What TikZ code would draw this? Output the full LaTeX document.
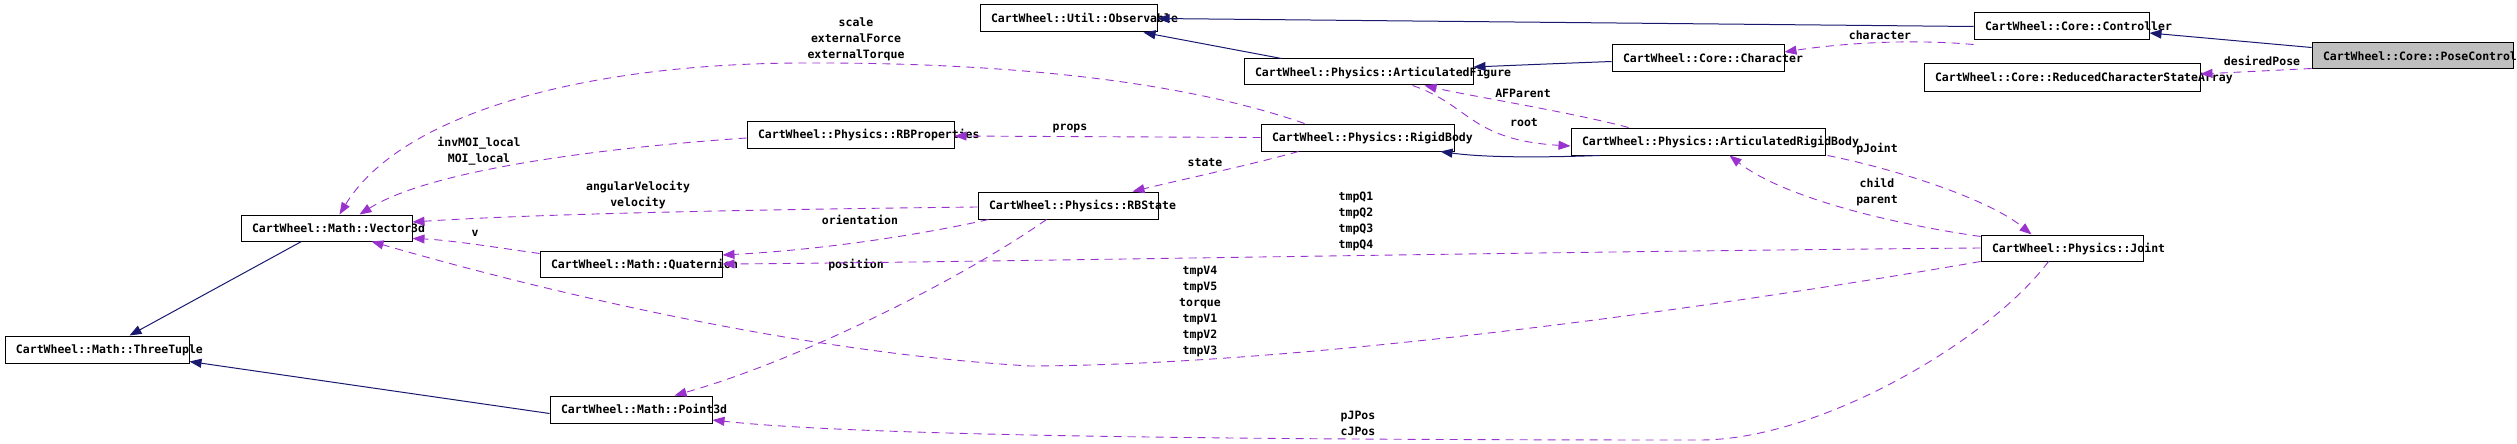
\documentclass[tikz,border=0pt]{standalone}
\usepackage{fontspec}
\newfontfamily\dxfont{DejaVu Sans Mono}
\usetikzlibrary{arrows.meta}
\definecolor{navyedge}{HTML}{191970}
\definecolor{orchidedge}{HTML}{9A32CD}
\definecolor{boxgray}{HTML}{BFBFBF}
\begin{document}
\begin{tikzpicture}[x=1pt,y=-1pt,
  txt/.style={font=\dxfont\bfseries\fontsize{11.5}{16}\selectfont},
  cls/.style={txt,draw=black,line width=1pt,inner xsep=11pt,inner ysep=0pt,
     align=left,text height=10.3pt,text depth=2pt},
  lbl/.style={txt,inner sep=0pt,align=center},
  inh/.style={draw=navyedge,line width=1pt,-{Triangle[length=12pt,width=9pt]}},
  usedby/.style={draw=orchidedge,line width=0.9pt,dash pattern=on 8pt off 6pt,
     -{Triangle[length=12pt,width=9pt]}}]
\useasboundingbox (0,0) rectangle (2517,444);
% classes
\node[cls,minimum width=177pt,text width=155pt,minimum height=27pt] (obs) at (1068.5,18.5) {\mbox{CartWheel::Util::Observable}};
\node[cls,minimum width=175pt,text width=153pt,minimum height=27pt] (ctrl) at (2061.5,26.5) {\mbox{CartWheel::Core::Controller}};
\node[cls,fill=boxgray,minimum width=201pt,text width=179pt,minimum height=26pt] (pose) at (2412.5,56) {\mbox{CartWheel::Core::PoseController}};
\node[cls,minimum width=276pt,text width=254pt,minimum height=27pt] (rcsa) at (2062,77.5) {\mbox{CartWheel::Core::ReducedCharacterStateArray}};
\node[cls,minimum width=172pt,text width=150pt,minimum height=27pt] (char) at (1698,58.5) {\mbox{CartWheel::Core::Character}};
\node[cls,minimum width=229pt,text width=207pt,minimum height=26pt] (af) at (1358.5,72) {\mbox{CartWheel::Physics::ArticulatedFigure}};
\node[cls,minimum width=207pt,text width=185pt,minimum height=27pt] (rbp) at (850.5,134.5) {\mbox{CartWheel::Physics::RBProperties}};
\node[cls,minimum width=193pt,text width=171pt,minimum height=27pt] (rb) at (1357.5,137.5) {\mbox{CartWheel::Physics::RigidBody}};
\node[cls,minimum width=254pt,text width=232pt,minimum height=27pt] (arb) at (1698,141.5) {\mbox{CartWheel::Physics::ArticulatedRigidBody}};
\node[cls,minimum width=180pt,text width=158pt,minimum height=27pt] (rbs) at (1068,205.5) {\mbox{CartWheel::Physics::RBState}};
\node[cls,minimum width=171pt,text width=149pt,minimum height=26pt] (v3) at (326.5,228) {\mbox{CartWheel::Math::Vector3d}};
\node[cls,minimum width=182pt,text width=160pt,minimum height=26pt] (q) at (631,264) {\mbox{CartWheel::Math::Quaternion}};
\node[cls,minimum width=184pt,text width=162pt,minimum height=27pt] (tt) at (97,349.5) {\mbox{CartWheel::Math::ThreeTuple}};
\node[cls,minimum width=162pt,text width=140pt,minimum height=27pt] (p3) at (631,409.5) {\mbox{CartWheel::Math::Point3d}};
\node[cls,minimum width=162pt,text width=140pt,minimum height=26pt] (joint) at (2062,248) {\mbox{CartWheel::Physics::Joint}};
% labels
\node[lbl] (l1) at (856,39) {scale\\externalForce\\externalTorque};
\node[lbl] (l2) at (479,151) {invMOI\_local\\MOI\_local};
\node[lbl] (l3) at (638,195) {angularVelocity\\velocity};
\node[lbl] (l4) at (475,233) {v};
\node[lbl] (l5) at (860,220) {orientation};
\node[lbl] (l6) at (856,265) {position};
\node[lbl] (l7) at (1070,128) {props};
\node[lbl] (l8) at (1205,163) {state};
\node[lbl] (l9) at (1523,93) {AFParent};
\node[lbl] (l10) at (1524,123) {root};
\node[lbl] (l11) at (1356,221) {tmpQ1\\tmpQ2\\tmpQ3\\tmpQ4};
\node[lbl] (l12) at (1200,311.5) {tmpV4\\tmpV5\\torque\\tmpV1\\tmpV2\\tmpV3};
\node[lbl] (l13) at (1358,423) {pJPos\\cJPos};
\node[lbl] (l14) at (1880,35) {character};
\node[lbl] (l15) at (2262,61) {desiredPose};
\node[lbl] (l16) at (1877,149) {pJoint};
\node[lbl] (l17) at (1877,192) {child\\parent};
% inheritance
\draw[inh] (ctrl.west) -- (obs.east);
\draw[inh] ([xshift=38pt]af.north west) -- ([xshift=164pt]obs.south west);
\draw[inh] ([yshift=-3pt]char.west) .. controls (1546,64) .. ([yshift=5pt]af.east);
\draw[inh] ([xshift=29pt]arb.south west) .. controls (1530,158) and (1480,157) .. ([xshift=-14pt]rb.south east);
\draw[inh] ([yshift=-5pt]pose.north west) -- ([yshift=-6.5pt]ctrl.east);
\draw[inh] ([xshift=61pt]v3.south west) -- ([xshift=125pt]tt.north west);
\draw[inh] ([yshift=-4pt]p3.west) -- ([yshift=2pt]tt.south east);
% usage
\draw[usedby] ([xshift=58pt]arb.north west) .. controls (1570,112) and (1470,96) .. ([xshift=181pt]af.south west);
\draw[usedby] ([xshift=169pt]af.south west) .. controls (1470,105) and (1470,140) .. ([yshift=-4.5pt]arb.west);
\draw[usedby] (rb.west) -- ([yshift=-1.5pt]rbp.east);
\draw[usedby] ([xshift=38pt]rb.south west) .. controls (1250,165) and (1180,180) .. ([xshift=155pt]rbs.north west);
\draw[usedby] ([xshift=44pt]rb.north west) .. controls (1180,80) and (1000,62) .. (800,63) .. controls (580,64) and (400,115) .. ([xshift=99pt]v3.north west);
\draw[usedby] ([yshift=-3.5pt]rbp.west) .. controls (600,148) and (430,170) .. ([xshift=119pt]v3.north west);
\draw[usedby] ([yshift=-1.5pt]rbs.west) .. controls (800,209) and (550,213) .. ([yshift=6pt]v3.east);
\draw[usedby] ([yshift=-3pt]q.north west) .. controls (500,248) and (450,240) .. ([yshift=3pt]v3.south east);
\draw[usedby] (joint.south west) .. controls (1700,310) and (1300,365) .. (1030,366) .. controls (760,350) and (470,270) .. ([xshift=131pt]v3.south west);
\draw[usedby] (joint.west) .. controls (1500,252) and (1000,262) .. (q.east);
\draw[usedby] ([xshift=11pt]rbs.south west) .. controls (920,235) and (820,250) .. ([yshift=9pt]q.east);
\draw[usedby] ([xshift=69pt]rbs.south west) .. controls (960,280) and (800,360) .. ([xshift=125pt]p3.north west);
\draw[usedby] ([xshift=68pt]joint.south west) .. controls (1990,340) and (1820,440) .. (1700,440) .. controls (1200,440) and (850,435) .. ([yshift=-10.5pt]p3.east);
\draw[usedby] ([yshift=-2pt]joint.north west) .. controls (1880,222) and (1780,195) .. ([xshift=159pt]arb.south west);
\draw[usedby] ([xshift=2pt]arb.south east) .. controls (1900,170) and (1990,200) .. ([xshift=51pt]joint.north west);
\draw[usedby] ([yshift=-4pt]ctrl.south west) .. controls (1900,38) and (1830,45) .. ([yshift=6.5pt]char.east);
\draw[usedby] ([yshift=1pt]pose.south west) -- ([yshift=3.5pt]rcsa.east);
\end{tikzpicture}
\end{document}
